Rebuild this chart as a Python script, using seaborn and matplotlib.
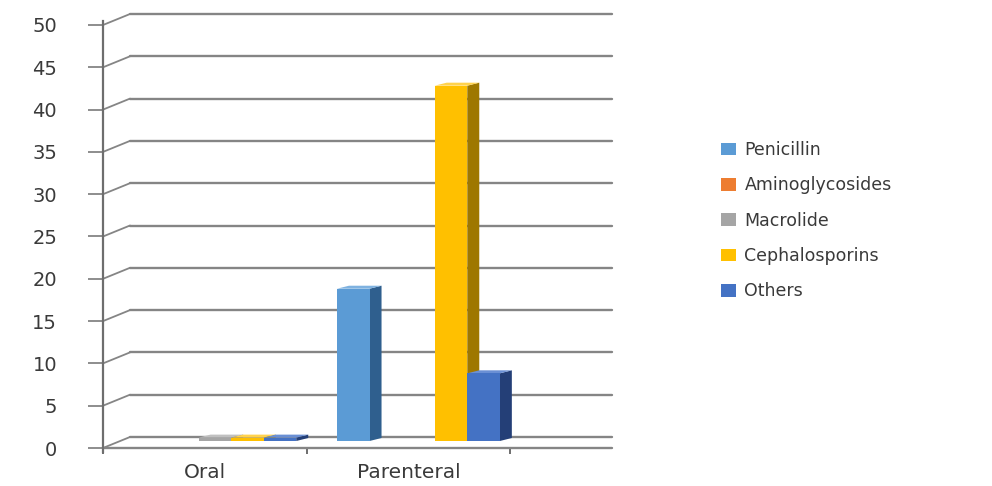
import numpy as np
import pandas as pd
import matplotlib
matplotlib.use("Agg")
import matplotlib.pyplot as plt
import matplotlib.transforms as mtransforms
from matplotlib.patches import Polygon, Patch
import seaborn as sns

# ---- data -------------------------------------------------------------
routes = ["Oral", "Parenteral"]
classes = ["Penicillin", "Aminoglycosides", "Macrolide", "Cephalosporins", "Others"]
oral_values = [0.0, 0.0, 0.4, 0.4, 0.4]
parenteral_values = [18, 0, 0, 42, 8]
y_ticks = [0, 5, 10, 15, 20, 25, 30, 35, 40, 45, 50]

colors = ["#5B9BD5", "#ED7D31", "#A5A5A5", "#FFC000", "#4472C4"]
side_colors = ["#2F5F8E", "#A4521B", "#6E6E6E", "#9E7700", "#243F77"]
top_colors = ["#7FB2E0", "#F29B60", "#C0C0C0", "#FFD24D", "#6A8FD4"]

df = pd.DataFrame({
    "route": np.repeat(routes, len(classes)),
    "class": classes * len(routes),
    "value": oral_values + parenteral_values,
})

sns.set_theme(style="white")
plt.rcParams["font.family"] = ["DejaVu Sans"]
text_color = "#3A3A3A"
grid_color = "#858585"

W, H, DPI = 992, 486, 100
fig = plt.figure(figsize=(W / DPI, H / DPI), dpi=DPI)
ax_left, ax_right, ax_top, ax_bottom = 103, 612, 25, 448
ax = fig.add_axes([ax_left / W, (H - ax_bottom) / H,
                   (ax_right - ax_left) / W, (ax_bottom - ax_top) / H])

sns.barplot(data=df, x="route", y="value", hue="class", hue_order=classes,
            palette=colors, saturation=1, width=0.8, ax=ax, legend=False,
            zorder=3, linewidth=0)

ax.set_xlim(-0.5, 2.0)
ax.set_ylim(0, 50)

# pixel -> data scale
px_per_x = (ax_right - ax_left) / 2.5
px_per_y = (ax_bottom - ax_top) / 50.0

# back wall gridlines with perspective offset
wall_dx_px, wall_dy_px = 27, 11
wall_dx = wall_dx_px / (ax_right - ax_left)
wall_dy = wall_dy_px / px_per_y
blend = ax.get_yaxis_transform()
for v in y_ticks:
    ax.plot([wall_dx, 1.0], [v + wall_dy, v + wall_dy], transform=blend,
            color=grid_color, lw=1.7, clip_on=False, zorder=1)
    ax.plot([0, wall_dx], [v, v + wall_dy], transform=blend,
            color=grid_color, lw=1.3, clip_on=False, zorder=1)

# floor front edge
ax.plot([0, 1], [0, 0], transform=blend, color=grid_color, lw=1.7,
        clip_on=False, zorder=2)

# shift bars to mid-depth and add side/top faces
shift = mtransforms.ScaledTranslation(10 / DPI, 7 / DPI, fig.dpi_scale_trans)
side_dx = 12 / px_per_x
side_dy = 3 / px_per_y
bar_patches = [p for p in ax.patches]
for i, p in enumerate(bar_patches):
    ci = i // len(routes)
    x0 = p.get_x()
    w = p.get_width()
    h = p.get_height()
    p.set_transform(ax.transData + shift)
    if h <= 0:
        continue
    side = Polygon([(x0 + w, 0), (x0 + w + side_dx, side_dy),
                    (x0 + w + side_dx, h + side_dy), (x0 + w, h)],
                   closed=True, facecolor=side_colors[ci], edgecolor="none",
                   transform=ax.transData + shift, zorder=2.9)
    top = Polygon([(x0, h), (x0 + side_dx, h + side_dy),
                   (x0 + w + side_dx, h + side_dy), (x0 + w, h)],
                  closed=True, facecolor=top_colors[ci], edgecolor="none",
                  transform=ax.transData + shift, zorder=2.9)
    ax.add_patch(side)
    ax.add_patch(top)

# axes styling
for s in ["top", "right", "bottom"]:
    ax.spines[s].set_visible(False)
ax.spines["left"].set_color("#6E6E6E")
ax.spines["left"].set_linewidth(1.6)
ax.spines["left"].set_bounds(-0.5, 50.5)

ax.set_yticks(y_ticks)
ax.set_yticklabels([str(v) for v in y_ticks])
ax.tick_params(axis="y", direction="out", length=11, width=1.2,
               color="#7A7A7A", pad=22, labelsize=14, labelcolor=text_color,
               left=True)
ax.set_xticks([0, 1])
ax.set_xticklabels(routes)
ax.tick_params(axis="x", which="major", length=0, pad=11, labelsize=14.5,
               labelcolor=text_color)
ax.set_xticks([-0.5, 0.5, 1.5], minor=True)
ax.tick_params(axis="x", which="minor", direction="out", length=4,
               width=1.2, color="#555555", bottom=True)
ax.set_xlabel("")
ax.set_ylabel("")
ax.grid(False)

handles = [Patch(facecolor=c, edgecolor="none", label=l)
           for c, l in zip(colors, classes)]
fig.legend(handles=handles, loc="upper left",
           bbox_to_anchor=(714 / W, 1 - 134 / H), frameon=False,
           fontsize=12.5, labelcolor=text_color, handlelength=0.85,
           handleheight=0.75, handletextpad=0.5, labelspacing=1.0,
           borderaxespad=0)

fig.savefig("out.png", dpi=DPI, facecolor="white")
